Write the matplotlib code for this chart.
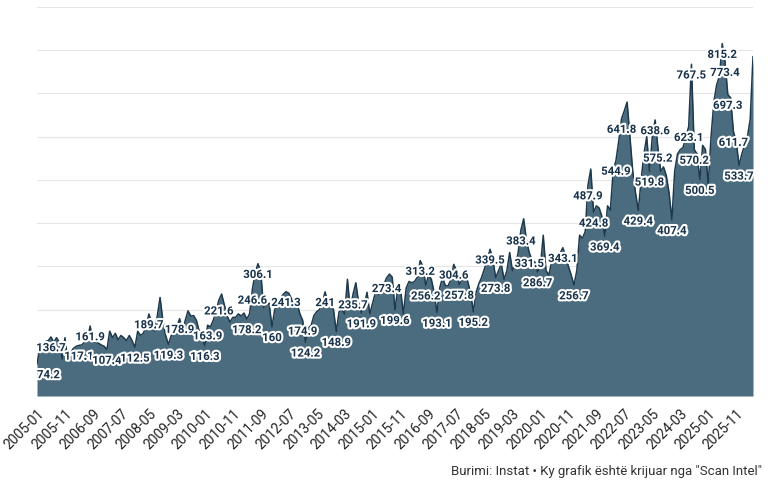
import matplotlib
matplotlib.use('Agg')
import matplotlib.pyplot as plt
import matplotlib.patheffects as pe
import numpy as np
import pandas as pd

# monthly values, 2005-01 onwards
values = [
    74.2, 112, 120, 126, 128, 136.7, 124, 135, 124, 86, 135, 80,          # 2005
    100, 110, 115, 117.1, 118, 125, 130, 161.9, 128, 125, 122, 118,       # 2006
    115, 107.4, 150, 135, 145, 130, 140, 135, 128, 140, 128, 112.5,       # 2007
    150, 140, 145, 160, 189.7, 170, 150, 185, 228, 175, 140, 119.3,       # 2008
    140, 150, 160, 178.9, 150, 175, 197, 185, 186, 175, 150, 135,         # 2009
    116.3, 163.9, 160, 175, 195, 221.6, 236, 210, 185, 171, 182, 182,     # 2010
    190, 185, 192, 178.2, 190, 246.6, 285, 306.1, 288, 205, 210, 215,     # 2011
    160, 200, 215, 225, 235, 241.3, 238, 225, 210, 215, 190, 174.9,       # 2012
    124.2, 158, 163, 186, 195, 200, 215, 241, 215, 210, 200, 148.9,       # 2013
    195, 200, 190, 270, 200, 235.7, 262, 215, 191.9, 210, 240, 190,       # 2014
    215, 240, 235, 250, 258, 273.4, 282, 275, 199.6, 250, 245, 190,       # 2015
    250, 265, 262, 265, 275, 313.2, 300, 256.2, 280, 270, 240, 193.1,     # 2016
    250, 275, 255, 255, 270, 304.6, 290, 257.8, 270, 280, 265, 240,       # 2017
    195.2, 240, 260, 275, 295, 315, 339.5, 315, 273.8, 290, 305, 270,     # 2018
    290, 332, 290, 305, 330, 383.4, 410, 360, 331.5, 315, 310, 286.7,     # 2019
    300, 372, 290, 280, 310, 320, 325, 330, 343.1, 325, 300, 280,         # 2020
    256.7, 290, 372, 365, 380, 487.9, 525, 424.8, 440, 435, 415, 369.4,   # 2021
    440, 430, 520, 544.9, 590, 641.8, 660, 680, 600, 520, 470, 429.4,     # 2022
    500, 560, 600, 519.8, 600, 638.6, 575.2, 520, 530, 510, 470, 407.4,   # 2023
    520, 560, 570, 575, 600, 623.1, 767.5, 570.2, 560, 500.5, 580, 570,   # 2024
    490, 600, 680, 720, 740, 815.2, 773.4, 697.3, 690, 611.7, 590, 533.7, # 2025
    560, 580, 600, 640, 785,                                              # 2026
]
months = pd.date_range('2005-01', periods=len(values), freq='MS').strftime('%Y-%m')

# months that carry a value label
label_idx = [0, 5, 15, 19, 25, 35, 40, 47, 51, 60, 61, 65, 75, 77, 79, 84, 89,
             95, 96, 103, 107, 113, 116, 125, 128, 137, 139, 143, 149, 151, 156,
             162, 164, 173, 176, 179, 188, 192, 197, 199, 203, 207, 209, 215,
             219, 221, 222, 227, 233, 234, 235, 237, 245, 246, 247, 249, 251]

caption = 'Burimi: Instat \u2022 Ky grafik është krijuar nga "Scan Intel"'

fill_col = '#4b6c7e'
line_col = '#1d394b'
text_col = '#17324a'

plt.rcParams['font.family'] = ['Roboto', 'DejaVu Sans']

fig = plt.figure(figsize=(7.83, 4.89), dpi=100)
ax = fig.add_axes([37 / 783, 1 - 397 / 489, 716 / 783, 389 / 489])

x = np.arange(len(values))
ax.fill_between(x, values, color=fill_col, lw=0, zorder=2)
ax.plot(x, values, color=line_col, lw=1.1, zorder=3)

ax.set_xlim(0, len(values) - 1)
ax.set_ylim(0, 900)
ax.set_yticks(range(0, 1000, 100))
ax.yaxis.grid(True, color='#e6e6e6', lw=0.8)
ax.set_axisbelow(True)
ax.tick_params(axis='y', length=0, labelleft=False)
for s in ax.spines.values():
    s.set_visible(False)

ax.set_xticks(x[::10])
ax.set_xticklabels(months[::10], rotation=45, ha='right', rotation_mode='anchor',
                   fontsize=10, color='#222222')
ax.tick_params(axis='x', length=0, pad=7)

halo = [pe.withStroke(linewidth=3, foreground='white')]
for i in label_idx:
    v = values[i]
    ax.annotate(f'{v:g}', xy=(i, v), xytext=(0, -4.5), textcoords='offset points',
                ha='left' if i == 0 else 'center', va='top', fontsize=8.2,
                fontweight='bold', color=text_col, path_effects=halo, zorder=5,
                annotation_clip=False)

fig.text(762 / 783, 1 - 472 / 489, caption, ha='right', va='center',
         fontsize=9.5, color='#333333')

fig.savefig('out.png', dpi=100)
